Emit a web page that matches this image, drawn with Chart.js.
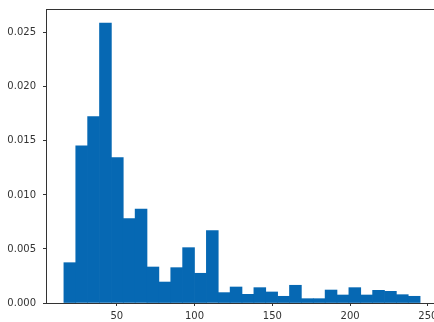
<!DOCTYPE html>
<html><head><meta charset="utf-8">
<script src="https://cdn.jsdelivr.net/npm/chart.js@4"></script>
<style>html,body{margin:0;padding:0;overflow:hidden;background:#fff;width:434px;height:322px}
#wrap{position:absolute;left:0;top:0;width:442px;height:322px}</style>
</head><body>
<div id="wrap"><canvas id="c" width="442" height="322"></canvas></div>
<script>
const binStart = 16;
const binEnd = 245;
const densities = [0.00373, 0.01454, 0.01725, 0.0259, 0.01346, 0.00781, 0.0087, 0.00333, 0.00194, 0.00327,
  0.00512, 0.00275, 0.0067, 0.00096, 0.00148, 0.0008, 0.00142, 0.00102, 0.00062, 0.00164,
  0.0004, 0.0004, 0.0012, 0.00074, 0.00142, 0.00074, 0.00117, 0.00108, 0.00077, 0.00062];
const xTicks = [50, 100, 150, 200, 250];
const yTicks = [0, 0.005, 0.01, 0.015, 0.02, 0.025];

const w = (binEnd - binStart) / densities.length;
const points = densities.map((d, i) => ({x: binStart + w * (i + 0.5), y: d}));
const font = {family: 'DejaVu Sans', size: 10};
const ink = '#333';

new Chart(document.getElementById('c'), {
  type: 'bar',
  data: {datasets: [{data: points, backgroundColor: '#0668b3', borderWidth: 0,
    barPercentage: 1, categoryPercentage: 1, grouped: false}]},
  options: {
    responsive: false, animation: false,
    plugins: {legend: {display: false}, tooltip: {enabled: false}},
    layout: {padding: {left: 0, right: 4, top: 9, bottom: 0}},
    scales: {
      x: {type: 'linear', min: 4.5, max: 256.5, offset: false,
        afterBuildTicks: s => { s.ticks = xTicks.map(v => ({value: v})); },
        afterFit: s => { s.height = 19; s.paddingLeft = 0; s.paddingRight = 0; },
        ticks: {font, color: ink, padding: 4, maxRotation: 0, autoSkip: false},
        grid: {offset: false, drawOnChartArea: false, drawTicks: true, tickLength: 3, color: ink},
        border: {display: true, color: ink, width: 1}},
      x2: {type: 'linear', position: 'top', min: 4.5, max: 256.5,
        afterFit: s => { s.height = 0; s.paddingLeft = 0; s.paddingRight = 0; },
        ticks: {display: false}, grid: {display: false},
        border: {display: true, color: ink, width: 1}},
      y: {min: 0, max: 0.0272,
        afterBuildTicks: s => { s.ticks = yTicks.map(v => ({value: v})); },
        afterFit: s => { s.width = 46; s.paddingTop = 0; s.paddingBottom = 0; },
        ticks: {font, color: ink, padding: 7, callback: v => v.toFixed(3)},
        grid: {drawOnChartArea: false, drawTicks: true, tickLength: 3, color: ink},
        border: {display: true, color: ink, width: 1}}
    }
  }
});
</script>
</body></html>
